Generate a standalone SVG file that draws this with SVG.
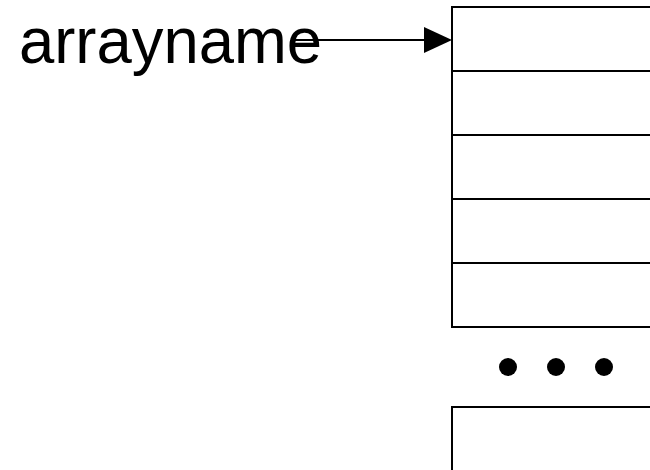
<svg xmlns="http://www.w3.org/2000/svg" width="650" height="470" viewBox="0 0 650 470">
  <style>
    .cell { fill: #ffffff; stroke: #000000; stroke-width: 2; }
    .label { font-family: "Liberation Sans", Arial, sans-serif; font-size: 65px; fill: #000000; }
    .link { stroke: #000000; stroke-width: 2; fill: none; }
    .dot { fill: #000000; }
  </style>
  <rect width="650" height="470" fill="#ffffff"/>

  <g id="arrayname">
    <text class="label" x="19" y="63" textLength="303" lengthAdjust="spacingAndGlyphs">arrayname</text>
  </g>

  <g id="array">
    <rect class="cell" x="452" y="7" width="210" height="64"/>
    <rect class="cell" x="452" y="71" width="210" height="64"/>
    <rect class="cell" x="452" y="135" width="210" height="64"/>
    <rect class="cell" x="452" y="199" width="210" height="64"/>
    <rect class="cell" x="452" y="263" width="210" height="64"/>
  </g>

  <g id="ellipsis">
    <circle class="dot" cx="508" cy="367" r="9"/>
    <circle class="dot" cx="556" cy="367" r="9"/>
    <circle class="dot" cx="604" cy="367" r="9"/>
  </g>

  <g id="last-cell">
    <rect class="cell" x="452" y="407" width="210" height="80"/>
  </g>

  <g id="connectors">
    <line class="link" x1="293" y1="40" x2="424" y2="40"/>
    <path d="M424,27 L452,40 L424,53 Z" fill="#000000"/>
  </g>
</svg>
